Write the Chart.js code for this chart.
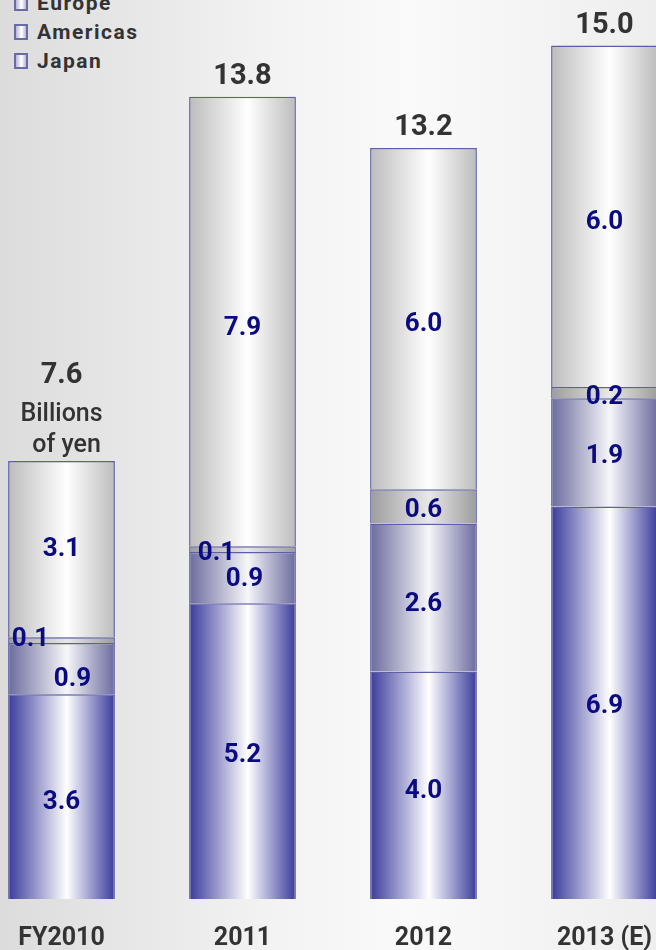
<!DOCTYPE html>
<html>
<head>
<meta charset="utf-8">
<script src="https://cdn.jsdelivr.net/npm/chart.js@4/dist/chart.umd.min.js"></script>
<style>
  html, body { margin: 0; padding: 0; }
  body {
    width: 656px; height: 950px; overflow: hidden; position: relative;
    background: linear-gradient(to right, #dcdcdc 0%, #f2f2f2 40%, #fafafa 62%, #eeeeee 100%);
    font-family: Roboto, 'Liberation Sans', sans-serif;
  }
  #chart { position: absolute; left: -29px; top: 0; }
  #legend { position: absolute; left: 14px; top: -12px; }
  .item { height: 29px; display: flex; align-items: center; font-size: 21px; font-weight: bold; color: #333; letter-spacing: 1.5px; }
  .box {
    width: 10px; height: 12px; margin-right: 9px; border: 2px solid #6a6aa8;
    background: linear-gradient(to right, #b8b8d0, #ffffff 55%, #b8b8d0);
  }
</style>
</head>
<body>
<div id="legend"></div>
<canvas id="chart" width="724" height="982"></canvas>
<script>
const CATEGORIES = ['FY2010', '2011', '2012', '2013 (E)'];
const JAPAN = [3.6, 5.2, 4.0, 6.9];
const AMERICAS = [0.9, 0.9, 2.6, 1.9];
const EUROPE = [0.1, 0.1, 0.6, 0.2];
const OTHER = [3.1, 7.9, 6.0, 6.0];
const TOTALS = ['7.6', '13.8', '13.2', '15.0'];
const UNIT = ['Billions', 'of yen'];
const LEGEND = ['Europe', 'Americas', 'Japan'];

const BAR_PCT = 0.59;
const TEXT_DY = 4;
// small label nudges [dx, dy] per dataset, per bar
const NUDGE = [
  [[0, 2], [0, 0], [0, 2], [0, 0]],
  [[11, 7], [2, -2], [0, 3], [0, 0]],
  [[-31, -5], [-26, 0], [0, 0], [0, 1]],
  [[0, -4], [0, 3], [0, 2], [0, 2]],
];

const legendEl = document.getElementById('legend');
LEGEND.forEach((name) => {
  const row = document.createElement('div');
  row.className = 'item';
  row.innerHTML = `<span class="box"></span>${name}`;
  legendEl.appendChild(row);
});

function barGradient(edge, mid) {
  return (c) => {
    const chart = c.chart;
    const area = chart.chartArea;
    if (!area) return edge;
    const x = chart.scales.x.getPixelForValue(c.dataIndex);
    const half = (area.width / CATEGORIES.length) * BAR_PCT / 2;
    const g = chart.ctx.createLinearGradient(x - half, 0, x + half, 0);
    g.addColorStop(0, edge);
    g.addColorStop(0.55, mid);
    g.addColorStop(1, edge);
    return g;
  };
}

const labelPlugin = {
  id: 'segLabels',
  afterDatasetsDraw(chart) {
    const ctx = chart.ctx;
    ctx.save();
    ctx.textAlign = 'center';
    ctx.textBaseline = 'middle';
    ctx.font = 'bold 26px Roboto';
    ctx.fillStyle = '#0a0a82';
    chart.data.datasets.forEach((ds, di) => {
      chart.getDatasetMeta(di).data.forEach((bar, i) => {
        const [dx, dy] = NUDGE[di][i];
        ctx.fillText(ds.data[i].toFixed(1), bar.x + dx, (bar.y + bar.base) / 2 + dy + TEXT_DY);
      });
    });
    const top = chart.getDatasetMeta(chart.data.datasets.length - 1).data;
    ctx.fillStyle = '#333';
    ctx.font = 'bold 29px Roboto';
    top.forEach((bar, i) => {
      ctx.fillText(TOTALS[i], bar.x, bar.y - (i === 0 ? 89 : 24) + TEXT_DY);
    });
    ctx.font = '500 25px Roboto';
    ctx.fillText(UNIT[0], top[0].x, top[0].y - 50 + TEXT_DY);
    ctx.fillText(UNIT[1], top[0].x + 5, top[0].y - 19 + TEXT_DY);
    ctx.restore();
  },
};

const common = { borderColor: '#5e5ea4', borderWidth: 1.5, barPercentage: BAR_PCT, categoryPercentage: 1 };

new Chart(document.getElementById('chart').getContext('2d'), {
  type: 'bar',
  data: {
    labels: CATEGORIES,
    datasets: [
      { label: 'Japan', data: JAPAN, backgroundColor: barGradient('#3a3a9c', '#ffffff'), ...common },
      { label: 'Americas', data: AMERICAS, backgroundColor: barGradient('#6b6b9e', '#f6f6fa'), ...common },
      { label: 'Europe', data: EUROPE, backgroundColor: barGradient('#9c9c9c', '#e8e8e8'), ...common },
      { label: 'Other', data: OTHER, backgroundColor: barGradient('#bcbcbc', '#ffffff'), ...common },
    ],
  },
  options: {
    responsive: false,
    animation: false,
    layout: { padding: { top: 0, bottom: 3 } },
    plugins: { legend: { display: false }, tooltip: { enabled: false } },
    scales: {
      x: {
        stacked: true,
        grid: { display: false, drawTicks: false },
        border: { display: false },
        ticks: { padding: 25, color: '#333', font: { family: 'Roboto', size: 25, weight: 'bold' } },
      },
      y: { stacked: true, display: false, min: 0, max: 15.8 },
    },
  },
  plugins: [labelPlugin],
});
</script>
</body>
</html>
